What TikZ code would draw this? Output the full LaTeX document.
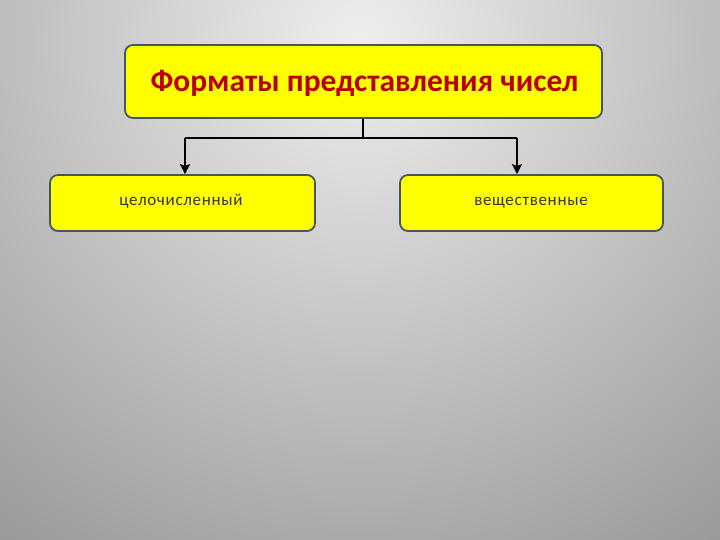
\documentclass[tikz,border=0pt]{standalone}
\usepackage{fontspec}
\setmainfont{Carlito}
\usetikzlibrary{arrows.meta}
\definecolor{boxyellow}{RGB}{255,255,0}
\definecolor{boxborder}{RGB}{70,85,100}
\definecolor{titlered}{RGB}{185,0,0}
\definecolor{smalltext}{RGB}{55,55,55}
\tikzset{
  box/.style={draw=boxborder, line width=1.8pt, fill=boxyellow, rounded corners=8pt, inner sep=0pt},
  conn/.style={line width=2.2pt, draw=black},
  arr/.style={conn, -{Stealth[length=10pt,width=10pt,inset=2pt]}},
  small/.style={font=\fontsize{17}{19}\selectfont\addfontfeatures{LetterSpace=4}, text=smalltext, anchor=base},
}
\begin{document}
\begin{tikzpicture}[x=1pt,y=-1pt]
\useasboundingbox (0,0) rectangle (720,540);
\begin{scope}
\clip (0,0) rectangle (720,540);
\shade[inner color={rgb,255:red,238;green,238;blue,238}, outer color={rgb,255:red,150;green,150;blue,150}] (360,40) circle (640);
\end{scope}
\node[box, minimum width=477pt, minimum height=73pt] (top) at (363.5,81.5) {};
\node[font=\bfseries\fontsize{31.5}{34}\selectfont, text=titlered, anchor=base] (ttl) at (364.5,92) {Форматы представления чисел};
\node[box, minimum width=265pt, minimum height=56pt] (left) at (182.5,203) {};
\node[small] (ltx) at (181,206) {целочисленный};
\node[box, minimum width=263pt, minimum height=56pt] (right) at (531.5,203) {};
\node[small] (rtx) at (531,206) {вещественные};
\coordinate (j) at (363,138);
\coordinate (jl) at (185,138);
\coordinate (jr) at (517,138);
\draw[conn] (top.south -| j) -- (j);
\draw[conn] (jl) -- (jr);
\draw[arr] (jl) -- (jl |- left.north);
\draw[arr] (jr) -- (jr |- right.north);
\end{tikzpicture}
\end{document}
